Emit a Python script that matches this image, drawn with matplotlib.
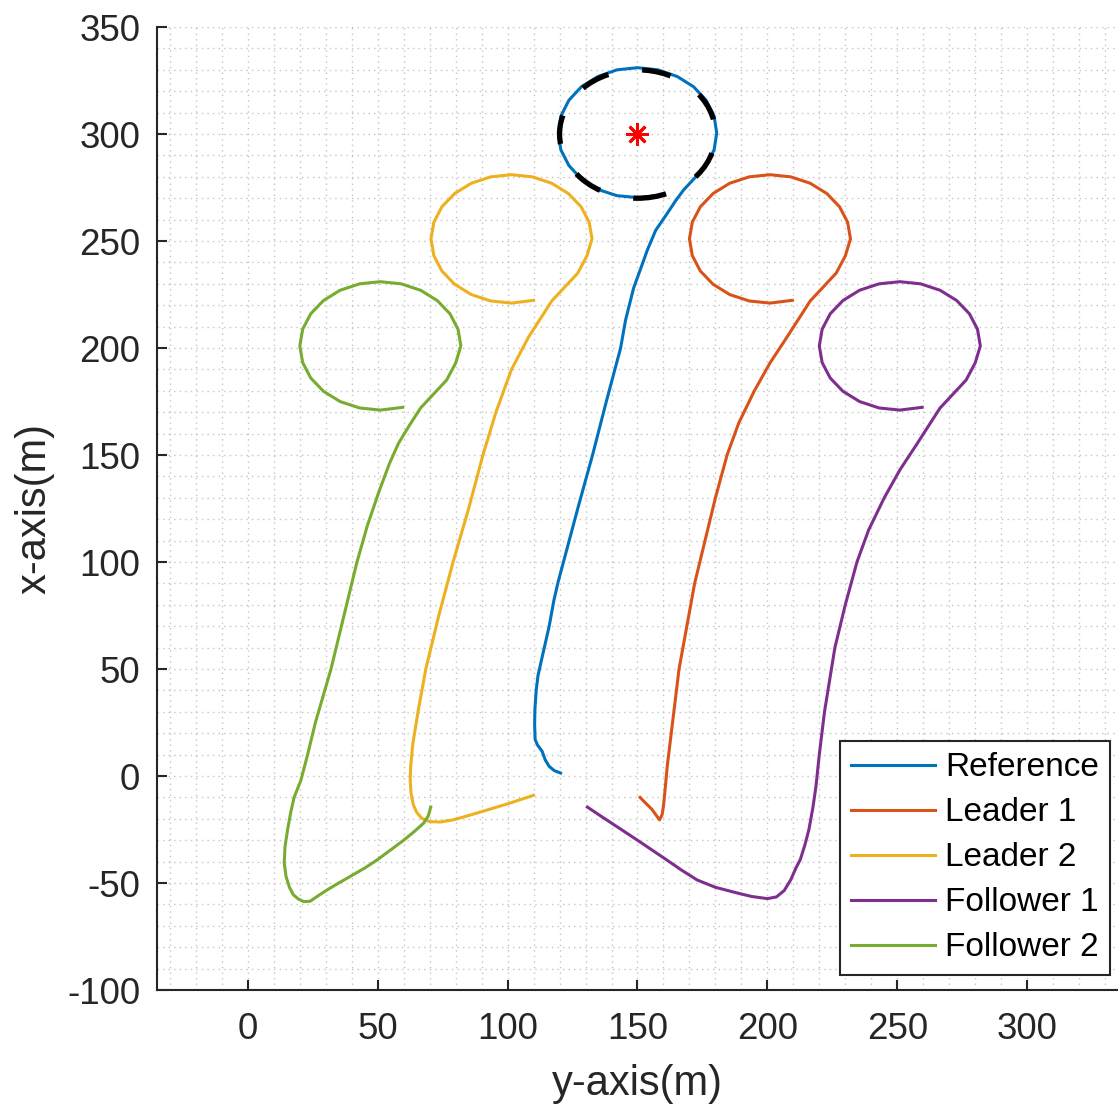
import matplotlib.pyplot as plt
import numpy as np
from matplotlib.patches import Circle
from matplotlib.ticker import MultipleLocator

plt.rcParams["font.family"] = ["Liberation Sans", "DejaVu Sans"]
plt.rcParams["axes.unicode_minus"] = False

# puntos (eje y horizontal, eje x vertical)
reference = [
    (120.4, 1.4), (118, 2.5), (116, 4.5), (114.5, 7.5), (113.3, 11.5), (111.5, 14.5),
    (110.6, 17), (110.4, 24), (110.5, 31), (111, 40), (111.7, 47), (113, 54),
    (114.5, 62), (116, 70), (117.8, 82), (119.5, 91), (121.5, 100), (127, 125),
    (132.7, 150), (138, 175), (143.5, 200), (145.4, 213), (148.5, 228), (151.5, 238),
    (153.8, 245.8), (157, 255), (161.5, 263), (164.5, 268.5), (167.7, 273.8),
    (171.6, 278.9), (176.4, 285.3), (179.5, 292.6), (180.5, 300.5), (179.5, 308.4),
    (176.4, 315.8), (171.6, 322.1), (165.3, 326.9), (157.9, 330), (150, 331),
    (142.1, 330), (134.8, 326.9), (128.4, 322.1), (123.6, 315.8), (120.5, 308.4),
    (119.5, 300.5), (120.5, 292.6), (123.6, 285.3), (128.4, 278.9), (134.8, 274.1),
    (142.1, 271.2), (150, 270.3), (160, 271.5),
]

leader1 = [
    (151, -10), (153, -12.5), (155.5, -15.5), (158.5, -20.5), (159.5, -18), (160, -14),
    (160.5, -8), (161.5, 5), (163, 20), (164.5, 35), (166, 50), (169, 70), (172, 90),
    (176, 110), (180, 130), (184.5, 150), (189, 165), (195, 180), (201, 193),
    (207.5, 205), (212, 213.5), (216.5, 222), (221.5, 228.5), (226.5, 235),
    (230, 243), (232, 251), (230.9, 258.8), (227.8, 266), (222.9, 272.2),
    (216.5, 277), (209, 280), (201, 281), (193, 280), (185.5, 277), (179.1, 272.2),
    (174.2, 266), (171.1, 258.8), (170, 251), (171.1, 243.2), (174.2, 236),
    (179.1, 229.8), (185.5, 225), (193, 222), (201, 221), (209.6, 222.3),
]

leader2 = [
    (110, -9), (105, -11), (100, -13), (94.5, -15), (89.6, -16.8), (84, -18.8),
    (79, -20.5), (74, -21.5), (70, -21.3), (67, -19.8), (65, -17), (63.7, -13.5),
    (62.8, -8), (62.5, -2), (62.7, 5), (63.5, 15), (65.5, 30), (68.5, 50),
    (73.5, 75), (79, 100), (85, 125), (90.5, 150), (95.5, 170), (101.5, 190),
    (108, 205), (112.5, 213.5), (117, 222), (122, 228.5), (127, 235),
    (130.5, 243), (132.5, 251), (131.4, 258.8), (128.3, 266), (123.4, 272.2),
    (117, 277), (109.5, 280), (101.5, 281), (93.5, 280), (86, 277), (79.6, 272.2),
    (74.7, 266), (71.6, 258.8), (70.5, 251), (71.6, 243.2), (74.7, 236),
    (79.6, 229.8), (86, 225), (93.5, 222), (101.5, 221), (110, 222.3),
]

follower1 = [
    (130.7, -14.5), (135, -18), (140, -22), (145, -26), (150, -30), (155.5, -34.5),
    (161, -39), (167, -44), (173, -48.6), (180, -52), (188.5, -54.7), (194, -56.3),
    (200, -57.3), (203.5, -56.5), (206.5, -53.5), (209, -48.5), (211, -43),
    (212.7, -39), (214.5, -32), (216, -25), (217.5, -15), (218.7, -5), (220, 10),
    (222, 30), (224, 45), (226, 60), (230, 80), (234.5, 100), (239, 115),
    (245, 130), (251, 143), (257.5, 155), (262, 163.5), (266.5, 172),
    (271.5, 178.5), (276.5, 185), (280, 193), (282, 201), (280.9, 208.8),
    (277.8, 216), (272.9, 222.2), (266.5, 227), (259, 230), (251, 231), (243, 230),
    (235.5, 227), (229.1, 222.2), (224.2, 216), (221.1, 208.8), (220, 201),
    (221.1, 193.2), (224.2, 186), (229.1, 179.8), (235.5, 175), (243, 172),
    (251, 171), (259.6, 172.3),
]

follower2 = [
    (70.4, -14.5), (69.5, -18.5), (67.7, -22), (64, -26), (60, -30), (55, -34.5),
    (50, -39), (45, -43), (40, -46.5), (35, -50), (30.8, -53), (27, -56), (24, -58.5),
    (21.5, -58.7), (19.5, -57.5), (17.5, -55.5), (16, -52), (14.7, -47), (14, -40.6),
    (14.3, -33), (15.3, -25), (16.5, -17), (17.8, -10), (20.4, -2), (23, 10),
    (26, 25), (32, 50), (37, 75), (42, 100), (46, 117), (50.5, 133), (54.5, 146),
    (58, 155.5), (62, 163.5), (66.5, 172), (71.5, 178.5), (76.5, 185), (80, 193),
    (82, 201), (80.9, 208.8), (77.8, 216), (72.9, 222.2), (66.5, 227), (59, 230),
    (51, 231), (43, 230), (35.5, 227), (29.1, 222.2), (24.2, 216), (21.1, 208.8),
    (20, 201), (21.1, 193.2), (24.2, 186), (29.1, 179.8), (35.5, 175), (43, 172),
    (51, 171), (59.6, 172.3),
]

objetivo = (150, 300)
radio = 30

series = [
    ("Reference", reference, "#0072BD"),
    ("Leader 1", leader1, "#D95319"),
    ("Leader 2", leader2, "#EDB120"),
    ("Follower 1", follower1, "#7E2F8E"),
    ("Follower 2", follower2, "#77AC30"),
]

fig = plt.figure(figsize=(11.18, 11.13), dpi=100)
ax = fig.add_axes([0.1404, 0.1105, 0.8596, 0.8652])

for nombre, puntos, color in series:
    pts = np.array(puntos)
    ax.plot(pts[:, 0], pts[:, 1], color=color, lw=2.2, label=nombre,
            solid_joinstyle="round")

circulo = Circle(objetivo, radio, fill=False, edgecolor="black", lw=3.8,
                 linestyle=(0, (5.5, 6.5)), zorder=5)
ax.add_patch(circulo)
ax.plot([objetivo[0]], [objetivo[1]], marker=(8, 2, 0), color="red",
        ms=16, mew=2, zorder=6)

ax.set_xlim(-35, 335)
ax.set_ylim(-100, 350)
ax.xaxis.set_major_locator(MultipleLocator(50))
ax.yaxis.set_major_locator(MultipleLocator(50))
ax.xaxis.set_minor_locator(MultipleLocator(10))
ax.yaxis.set_minor_locator(MultipleLocator(10))
ax.grid(which="both", linestyle=(0, (1, 3)), color="#c4c4c4", lw=1.0)
ax.set_axisbelow(True)

for lado in ["top", "right"]:
    ax.spines[lado].set_visible(False)
for lado in ["left", "bottom"]:
    ax.spines[lado].set_color("#262626")
    ax.spines[lado].set_linewidth(1.5)

ax.tick_params(which="major", direction="in", length=7, width=1.5,
               colors="#262626", labelsize=26.5)
ax.tick_params(axis="y", pad=12)
ax.tick_params(axis="x", pad=16)
ax.tick_params(which="minor", length=0)
ax.set_xticks([0, 50, 100, 150, 200, 250, 300])

ax.set_xlabel("y-axis(m)", fontsize=30, color="#262626", labelpad=12)
ax.set_ylabel("x-axis(m)", fontsize=30, color="#262626", labelpad=9)

leg = ax.legend(loc="lower right", bbox_to_anchor=(0.992, 0.0156),
                borderaxespad=0, fontsize=24, handlelength=2.5,
                labelspacing=0.42, fancybox=False, framealpha=1,
                edgecolor="#262626", borderpad=0.35, handletextpad=0.3)
leg.get_frame().set_linewidth(1.5)

plt.savefig("out.png", dpi=100)
